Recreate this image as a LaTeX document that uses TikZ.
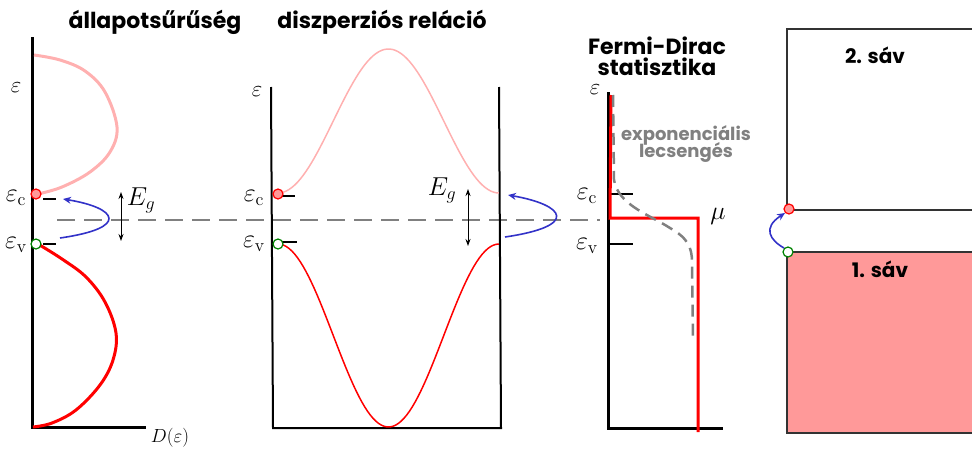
\documentclass[tikz,border=0pt]{standalone}
\usepackage{fontspec}
\newfontfamily\titlefont{Poppins}
\usetikzlibrary{arrows.meta}
\definecolor{bandpink}{RGB}{255,153,153}
\definecolor{lightred}{RGB}{255,176,176}
\definecolor{arrowblue}{RGB}{50,50,200}
\definecolor{dgreen}{RGB}{0,130,0}
\definecolor{midgray}{RGB}{128,128,128}
\tikzset{
  axis/.style={line width=3pt},
  thinaxis/.style={line width=2pt},
  tick/.style={line width=2.5pt},
  title/.style={font=\titlefont\bfseries\fontsize{22}{25}\selectfont, align=center},
  subtitle/.style={font=\titlefont\bfseries\fontsize{18}{20}\selectfont, text=midgray, align=center},
  mlabel/.style={font=\fontsize{20.74}{24}\selectfont, inner sep=0pt, scale=1.25},
  elabel/.style={font=\fontsize{20.74}{24}\selectfont, inner sep=0pt, scale=1.1},
  elec/.style={circle, draw=red, fill=bandpink, line width=1.2pt, minimum size=10pt, inner sep=0pt},
  hole/.style={circle, draw=dgreen, fill=white, line width=1.2pt, minimum size=10pt, inner sep=0pt},
  jump/.style={arrowblue, line width=1.6pt, -{Stealth[length=8pt,width=7pt]}},
  gap/.style={line width=0.9pt, {Stealth[length=7pt,width=5pt]}-{Stealth[length=7pt,width=5pt]}},
}
\begin{document}
\begin{tikzpicture}[x=1pt,y=-1pt]
\useasboundingbox (0,0) rectangle (972,450);
% dashed level
\coordinate (dl) at (57,220);
\coordinate (dr) at (600,220);
\draw[midgray, line width=2pt, dash pattern=on 18pt off 9pt] (dl) -- (dr);

% ===== Panel 1: DOS =====
\node[title] (t1) at (155,22) {állapotsűrűség};
\coordinate (a1t) at (32,37);
\coordinate (a1o) at (32,427);
\coordinate (a1r) at (146,427);
\draw[axis] (a1t) -- (a1o) -- (a1r);
\node[elabel] (e1) at (16,88) {$\varepsilon$};
\node[font=\fontsize{17.28}{20}\selectfont, scale=1.1] (d1) at (170,438) {$D(\varepsilon)$};
\draw[lightred, line width=3pt] plot[smooth, tension=0.6] coordinates {(34,55) (60,60) (85,71) (105,92) (117,127) (110,152) (90,172) (62,187) (38,194)};
\draw[red, line width=3pt] plot[smooth, tension=0.6] coordinates {(38,244) (62,259) (86,277) (105,302) (116,333) (113,360) (100,385) (76,410) (52,423) (33,427)};
\coordinate (c1a) at (43,199); \coordinate (c1b) at (56,199);
\coordinate (v1a) at (43,244); \coordinate (v1b) at (56,244);
\draw[tick] (c1a) -- (c1b);
\draw[tick] (v1a) -- (v1b);
\node[elec] (ec1) at (36,194) {};
\node[hole] (hv1) at (36,244) {};
\node[mlabel] (lc1) at (16,198) {$\varepsilon_{\mathrm{c}}$};
\node[mlabel] (lv1) at (16,245) {$\varepsilon_{\mathrm{v}}$};
\coordinate (b1s) at (60,238); \coordinate (b1e) at (63,199);
\draw[jump] (b1s) .. controls (130,228) and (118,208) .. (b1e);
\coordinate (g1t) at (121,192); \coordinate (g1b) at (121,241);
\draw[gap] (g1t) -- (g1b);
\node[mlabel] (eg1) at (141,200) {$E_g$};

% ===== Panel 2: dispersion =====
\node[title] (t2) at (382,22) {diszperziós reláció};
\coordinate (a2l) at (271,87);
\coordinate (a2lb) at (273,428);
\coordinate (a2rb) at (501,428);
\coordinate (a2r) at (499,87);
\draw[thinaxis] (a2l) -- (a2lb) -- (a2rb) -- (a2r);
\node[elabel] (e2) at (257,92) {$\varepsilon$};
\draw[lightred, line width=1.5pt] plot[domain=0:1, samples=80, variable=\t] ({278+221*\t},{121+72*cos(360*\t)});
\draw[red, line width=1.5pt] plot[domain=0:1, samples=80, variable=\t] ({278+221*\t},{335.5-91.5*cos(360*\t)});
\coordinate (c2a) at (280,196); \coordinate (c2b) at (295,196);
\coordinate (v2a) at (280,242); \coordinate (v2b) at (297,242);
\draw[tick] (c2a) -- (c2b);
\draw[tick] (v2a) -- (v2b);
\node[elec] (ec2) at (278,194) {};
\node[hole] (hv2) at (278,244) {};
\node[mlabel] (lc2) at (254,198) {$\varepsilon_{\mathrm{c}}$};
\node[mlabel] (lv2) at (254,244) {$\varepsilon_{\mathrm{v}}$};
\coordinate (g2t) at (468,189); \coordinate (g2b) at (468,246);
\draw[gap] (g2t) -- (g2b);
\node[mlabel] (eg2) at (442,190) {$E_g$};
\coordinate (b2s) at (505,237); \coordinate (b2e) at (508,195);
\draw[jump] (b2s) .. controls (580,226) and (565,205) .. (b2e);

% ===== Panel 3: Fermi-Dirac =====
\node[title] (t3) at (657,56) {Fermi-Dirac\\[-4pt]statisztika};
\coordinate (a3t) at (608,92);
\coordinate (a3o) at (608,428);
\coordinate (a3r) at (723,428);
\draw[axis] (a3t) -- (a3o) -- (a3r);
\node[elabel] (e3) at (595,90) {$\varepsilon$};
\coordinate (c3a) at (608,194); \coordinate (c3b) at (633,194);
\coordinate (v3a) at (608,244); \coordinate (v3b) at (633,244);
\draw[tick] (c3a) -- (c3b);
\draw[tick] (v3a) -- (v3b);
\node[mlabel] (lc3) at (587,196) {$\varepsilon_{\mathrm{c}}$};
\node[mlabel] (lv3) at (587,246) {$\varepsilon_{\mathrm{v}}$};
\coordinate (f1) at (611,95);
\coordinate (f2) at (610,218);
\coordinate (f3) at (698,218);
\coordinate (f4) at (698,432);
\draw[red, line width=3pt] (f1) -- (f2) -- (f3) -- (f4);
\coordinate (x1) at (613,95);
\coordinate (x2) at (614,180);
\coordinate (x3) at (692,262);
\coordinate (x4) at (693,337);
\draw[midgray, line width=2.5pt, dash pattern=on 12pt off 7pt] (x1) -- (x2) .. controls (618,205) and (650,215) .. (670,228) .. controls (688,238) and (692,248) .. (x3) -- (x4);
\node[subtitle] (exp) at (686,144) {exponenciális\\[-3pt]lecsengés};
\node[mlabel] (mu) at (718,216) {$\mu$};

% ===== Panel 4: bands =====
\coordinate (r2a) at (787,29); \coordinate (r2b) at (975,210);
\coordinate (r1a) at (787,252); \coordinate (r1b) at (975,433);
\draw[fill=white, draw=black!80, line width=1.2pt] (r2a) rectangle (r2b);
\draw[fill=bandpink, draw=black!80, line width=1.2pt] (r1a) rectangle (r1b);
\node[font=\titlefont\bfseries\fontsize{20}{22}\selectfont] (s2) at (875,55) {2. sáv};
\node[font=\titlefont\bfseries\fontsize{20}{22}\selectfont] (s1) at (880,269) {1. sáv};
\node[elec] (ec4) at (789,209) {};
\node[hole] (hv4) at (788,252) {};
\draw[jump] (hv4.north west) .. controls (770,240) and (762,228) .. (ec4.south west);
\end{tikzpicture}
\end{document}
